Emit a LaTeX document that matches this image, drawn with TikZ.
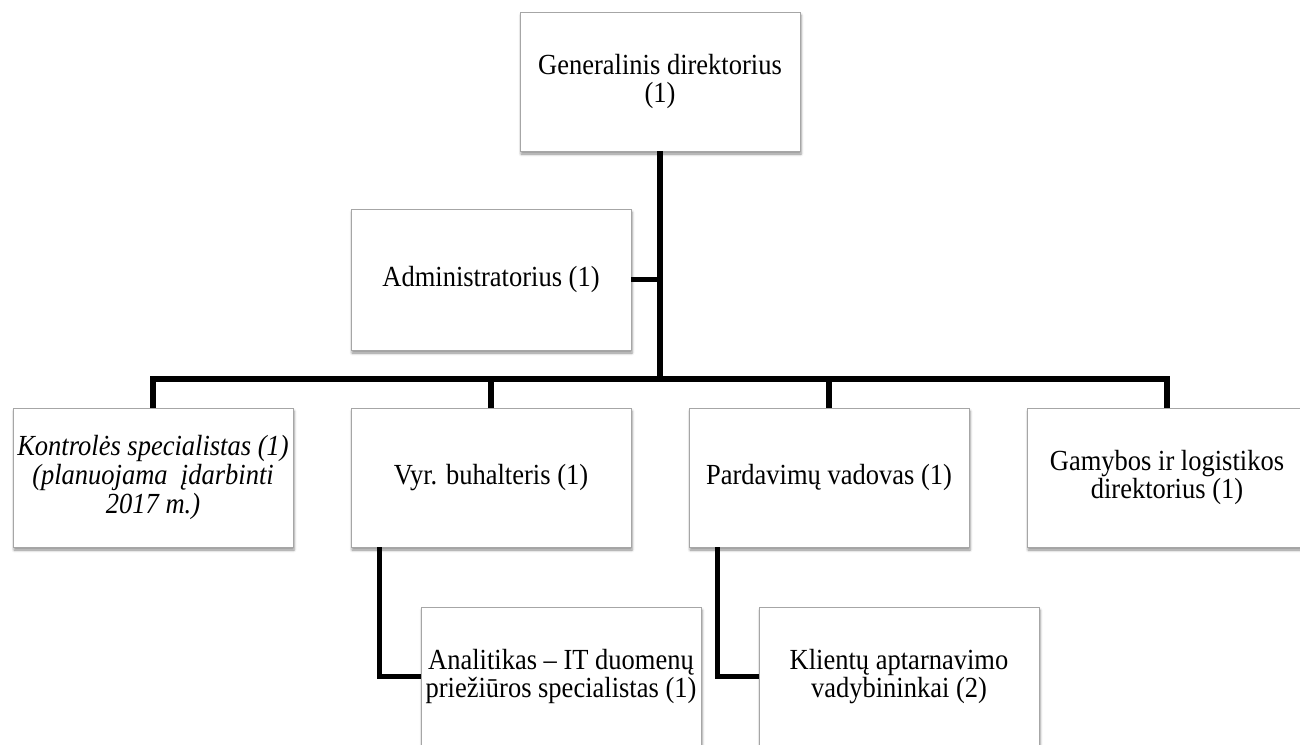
\documentclass[tikz,border=0pt]{standalone}
\usepackage{fontspec}
\setmainfont{Liberation Serif}
\usetikzlibrary{shadows.blur}

% centred lines, slightly stretched vertically, with a fixed line pitch
\newcommand\boxlines[1]{\scalebox{1}[1.1]{\vbox{\lineskiplimit=-100pt\baselineskip=26pt
  \halign{\hfil##\hfil\cr#1\crcr}}}}

\tikzset{
  orgbox/.style={draw=black!35, line width=0.9pt, fill=white,
    minimum width=280pt, minimum height=139pt, inner sep=0pt,
    font=\fontsize{26.5}{26}\selectfont,
    blur shadow={shadow xshift=1pt, shadow yshift=-3pt,
      shadow blur radius=2.5pt, shadow opacity=45}},
  conn/.style={line width=5.5pt, draw=black, line join=miter}
}

\begin{document}
\begin{tikzpicture}[x=1pt, y=-1pt]
  \useasboundingbox (0,0) rectangle (1300,744);
  \clip (0,0) rectangle (1300,744);

  \coordinate (busy) at (0,379);

  \node[orgbox] (gd) at (660,81.5)  {\boxlines{Generalinis direktorius\cr (1)}};
  \node[orgbox, minimum height=141pt] (ad) at (491,279.5) {\boxlines{Administratorius (1)}};
  \node[orgbox] (ks) at (153,477.5) {\boxlines{\itshape Kontrolės specialistas (1)\cr \itshape (planuojama\ \ įdarbinti\cr \itshape 2017 m.)}};
  \node[orgbox] (vb) at (491,477.5) {\boxlines{Vyr. buhalteris (1)}};
  \node[orgbox] (pv) at (829,477.5) {\boxlines{Pardavimų vadovas (1)}};
  \node[orgbox] (gl) at (1167,477.5) {\boxlines{Gamybos ir logistikos\cr direktorius (1)}};
  \node[orgbox] (an) at (561,676.5) {\boxlines{Analitikas – IT duomenų\cr priežiūros specialistas (1)}};
  \node[orgbox] (kl) at (899,676.5) {\boxlines{Klientų aptarnavimo\cr vadybininkai (2)}};

  % reporting lines
  \draw[conn] (gd.south) -- (gd.south |- busy);
  \draw[conn] (ad.east) -- (ad.east -| gd.south);
  \draw[conn] (ks.north) -- (ks.north |- busy) -- (gl.north |- busy) -- (gl.north);
  \draw[conn] (vb.north) -- (vb.north |- busy);
  \draw[conn] (pv.north) -- (pv.north |- busy);
  \draw[conn] ([xshift=29pt]vb.south west) |- (an.west);
  \draw[conn] ([xshift=29pt]pv.south west) |- (kl.west);
\end{tikzpicture}
\end{document}
